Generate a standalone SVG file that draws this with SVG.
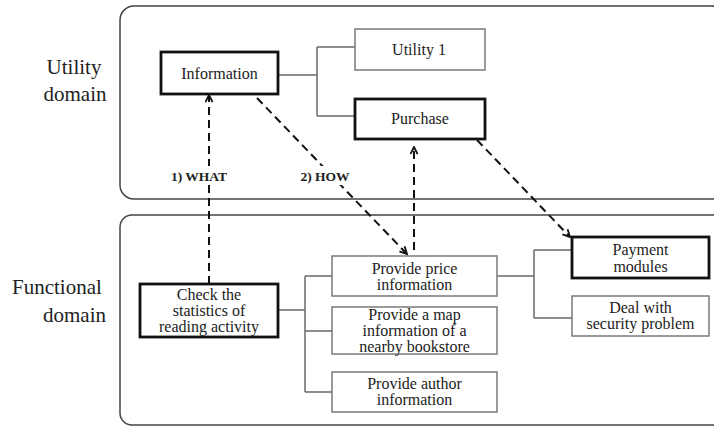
<svg xmlns="http://www.w3.org/2000/svg" width="714" height="427" viewBox="0 0 714 427">
  <defs>
    <style>
      .panel { fill: #fff; stroke: #444; stroke-width: 1.5; }
      .thin { fill: #fff; stroke: #7a7a7a; stroke-width: 1.5; }
      .thick { fill: #fff; stroke: #111; stroke-width: 2.8; }
      .tree { fill: none; stroke: #6a6a6a; stroke-width: 1.5; }
      .dash { fill: none; stroke: #111; stroke-width: 2; stroke-dasharray: 8 5; }
      text { font-family: "Liberation Serif", "DejaVu Serif", serif; fill: #222; }
      .dom { font-size: 21px; }
      .lbl { font-size: 16px; text-anchor: middle; }
      .tag { font-size: 13.5px; font-weight: bold; text-anchor: middle; }
    </style>
    <marker id="arrow" viewBox="0 0 10 10" refX="9" refY="5" markerWidth="9" markerHeight="9" markerUnits="userSpaceOnUse" orient="auto">
      <path d="M1,1 L9,5 L1,9" fill="none" stroke="#111" stroke-width="2"/>
    </marker>
  </defs>

  <!-- domain panels -->
  <g id="utility-domain">
    <rect class="panel" x="120" y="6" width="606" height="193" rx="14"/>
    <text class="dom" x="74" y="74" text-anchor="middle">Utility</text>
    <text class="dom" x="75" y="101" text-anchor="middle">domain</text>
  </g>
  <g id="functional-domain">
    <rect class="panel" x="120" y="215" width="606" height="210" rx="12"/>
    <text class="dom" x="12" y="294">Functional</text>
    <text class="dom" x="43" y="322">domain</text>
  </g>

  <!-- tree connectors -->
  <g id="connectors">
    <path class="tree" d="M278,75 H317 M317,47 V116 M317,47 H355 M317,116 H355"/>
    <path class="tree" d="M278,310 H305 M305,276 V392 M305,276 H332 M305,331 H332 M305,392 H332"/>
    <path class="tree" d="M497,276 H534 M534,250 V318 M534,250 H572 M534,318 H572"/>

    <!-- mapping arrows -->
    <line class="dash" x1="209" y1="284" x2="209" y2="95" marker-end="url(#arrow)"/>
    <line class="dash" x1="257" y1="98" x2="407" y2="254" marker-end="url(#arrow)"/>
    <line class="dash" x1="414" y1="250" x2="414" y2="147" marker-end="url(#arrow)"/>
    <line class="dash" x1="477" y1="140" x2="570" y2="237" marker-end="url(#arrow)"/>

    <rect x="170" y="166" width="58" height="19" fill="#fff"/>
    <text class="tag" x="199" y="181">1) WHAT</text>
    <rect x="298" y="166" width="54" height="19" fill="#fff"/>
    <text class="tag" x="325" y="181">2) HOW</text>
  </g>

  <!-- utility domain nodes -->
  <g id="information">
    <rect class="thick" x="161" y="52" width="117" height="42"/>
    <text class="lbl" x="219.5" y="79">Information</text>
  </g>
  <g id="utility1">
    <rect class="thin" x="355" y="29" width="130" height="41"/>
    <text class="lbl" x="419" y="55">Utility 1</text>
  </g>
  <g id="purchase">
    <rect class="thick" x="355" y="99" width="130" height="40"/>
    <text class="lbl" x="420" y="124">Purchase</text>
  </g>

  <!-- functional domain nodes -->
  <g id="check-statistics">
    <rect class="thick" x="140" y="284" width="138" height="53"/>
    <text class="lbl" x="209" y="300">Check the</text>
    <text class="lbl" x="209" y="316">statistics of</text>
    <text class="lbl" x="209" y="332">reading activity</text>
  </g>
  <g id="price-info">
    <rect class="thin" x="332" y="256" width="165" height="40"/>
    <text class="lbl" x="414.5" y="274">Provide price</text>
    <text class="lbl" x="414.5" y="290">information</text>
  </g>
  <g id="map-info">
    <rect class="thin" x="332" y="307" width="165" height="47"/>
    <text class="lbl" x="414.5" y="320">Provide a map</text>
    <text class="lbl" x="414.5" y="336">information of a</text>
    <text class="lbl" x="414.5" y="352">nearby bookstore</text>
  </g>
  <g id="author-info">
    <rect class="thin" x="332" y="372" width="165" height="40"/>
    <text class="lbl" x="414.5" y="389">Provide author</text>
    <text class="lbl" x="414.5" y="405">information</text>
  </g>
  <g id="payment">
    <rect class="thick" x="572" y="237" width="137" height="41"/>
    <text class="lbl" x="640.5" y="255">Payment</text>
    <text class="lbl" x="640.5" y="272">modules</text>
  </g>
  <g id="security">
    <rect class="thin" x="572" y="296" width="137" height="40"/>
    <text class="lbl" x="640.5" y="313">Deal with</text>
    <text class="lbl" x="640.5" y="329">security problem</text>
  </g>
</svg>
